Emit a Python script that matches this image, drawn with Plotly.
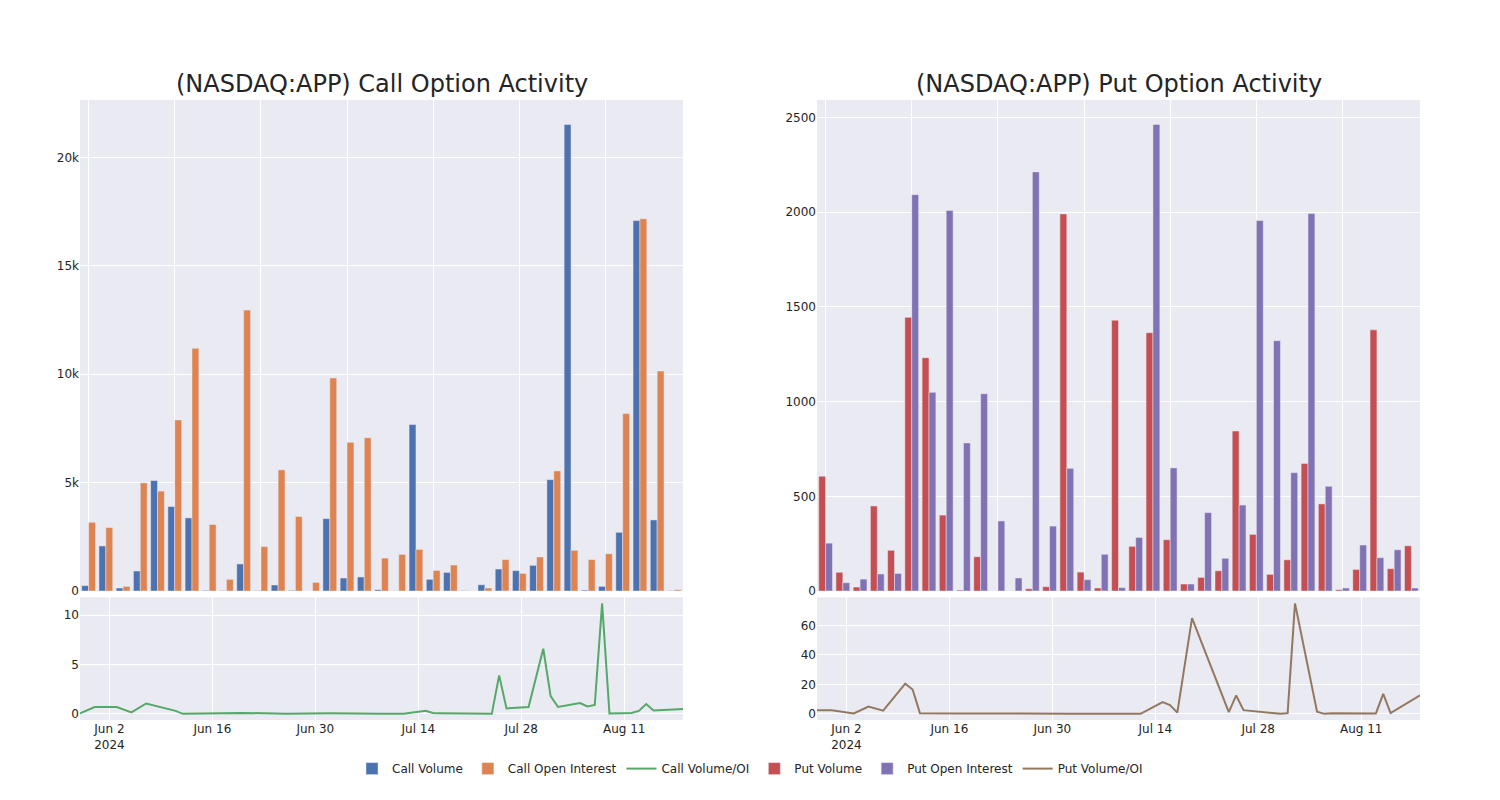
import plotly.graph_objects as go
from plotly.subplots import make_subplots

# Trading dates with option data (categories for bars, dates for ratio lines)
dates = [
    "2024-05-29", "2024-05-31", "2024-06-03", "2024-06-05", "2024-06-07",
    "2024-06-10", "2024-06-11", "2024-06-12", "2024-06-18", "2024-06-20",
    "2024-06-26", "2024-07-02", "2024-07-09", "2024-07-12", "2024-07-15",
    "2024-07-16", "2024-07-17", "2024-07-19", "2024-07-24", "2024-07-25",
    "2024-07-26", "2024-07-29", "2024-07-31", "2024-08-01", "2024-08-02",
    "2024-08-05", "2024-08-06", "2024-08-07", "2024-08-08", "2024-08-09",
    "2024-08-12", "2024-08-13", "2024-08-14", "2024-08-15", "2024-08-19",
]

call_volume = [250, 2080, 140, 925, 5100, 3900, 3375, 30, 15, 1250,
               15, 280, 30, 0, 3340, 600, 650, 60, 5, 7680,
               540, 860, 15, 290, 1015, 940, 1185, 5140, 21520, 45,
               215, 2710, 17090, 3280, 15]
call_oi = [3170, 2930, 215, 4990, 4610, 7890, 11200, 3070, 540, 12960,
           2050, 5590, 3440, 400, 9830, 6860, 7070, 1520, 1690, 1920,
           950, 1200, 5, 140, 1450, 815, 1570, 5540, 1880, 1450,
           1720, 8185, 17170, 10150, 60]
call_ratio = [0.05, 0.7, 0.7, 0.15, 1.05, 0.5, 0.3, 0.0, 0.02, 0.1,
              0.02, 0.05, 0.0, 0.0, 0.32, 0.08, 0.07, 0.04, 0.0, 3.9,
              0.55, 0.7, 6.6, 1.8, 0.7, 1.1, 0.75, 0.9, 11.2, 0.03,
              0.1, 0.3, 1.0, 0.35, 0.5]

put_volume = [606, 99, 21, 449, 215, 1445, 1232, 401, 5, 181,
              0, 0, 12, 23, 1991, 100, 16, 1430, 236, 1364,
              271, 37, 72, 107, 845, 299, 88, 165, 673, 460,
              7, 114, 1379, 118, 239]
put_oi = [253, 44, 63, 90, 93, 2093, 1049, 2009, 782, 1042,
          370, 69, 2213, 343, 648, 60, 194, 18, 283, 2463,
          650, 37, 414, 173, 454, 1956, 1322, 625, 1993, 553,
          16, 243, 176, 218, 16]
put_ratio = [2.5, 2.5, 0.3, 5.0, 2.2, 20.5, 16.5, 0.5, 0.3, 0.4,
             0.2, 0.1, 0.0, 0.0, 8.0, 6.0, 0.8, 65.0, 1.2, 12.5,
             2.5, 1.2, 0.0, 0.5, 75.0, 1.5, 0.0, 0.5, 0.5, 0.5,
             0.3, 0.3, 13.5, 0.5, 12.5]

titles = ["(NASDAQ:APP) Call Option Activity", "(NASDAQ:APP) Put Option Activity"]

fig = make_subplots(rows=2, cols=2, row_heights=[0.8, 0.2],
                    vertical_spacing=0.01, horizontal_spacing=0.1,
                    subplot_titles=[titles[0], titles[1], "", ""])

fig.add_trace(go.Bar(x=dates, y=call_volume, name="Call Volume"), row=1, col=1)
fig.add_trace(go.Bar(x=dates, y=call_oi, name="Call Open Interest"), row=1, col=1)
fig.add_trace(go.Scatter(x=dates, y=call_ratio, name="Call Volume/OI", mode="lines"), row=2, col=1)
fig.add_trace(go.Bar(x=dates, y=put_volume, name="Put Volume"), row=1, col=2)
fig.add_trace(go.Bar(x=dates, y=put_oi, name="Put Open Interest"), row=1, col=2)
fig.add_trace(go.Scatter(x=dates, y=put_ratio, name="Put Volume/OI", mode="lines"), row=2, col=2)

fig.update_layout(
    template="seaborn",
    width=1500, height=800,
    font=dict(family="DejaVu Sans", size=12),
    margin=dict(l=80, r=80, t=100, b=80),
    legend=dict(orientation="h", x=0.5, xanchor="center", y=-0.055, yanchor="top"),
)
for ann in fig.layout.annotations:
    ann.font.size = 24
    ann.font.family = "DejaVu Sans"

fig.update_xaxes(type="category", showticklabels=False, tickmode="linear",
                 tick0=0, dtick=5, row=1, col=1)
fig.update_xaxes(type="category", showticklabels=False, tickmode="linear",
                 tick0=0, dtick=5, row=1, col=2)
fig.update_xaxes(type="date", row=2, col=1)
fig.update_xaxes(type="date", row=2, col=2)

fig.write_html("out.html", config={"displayModeBar": False},
               post_script="document.body.style.margin='0';")
